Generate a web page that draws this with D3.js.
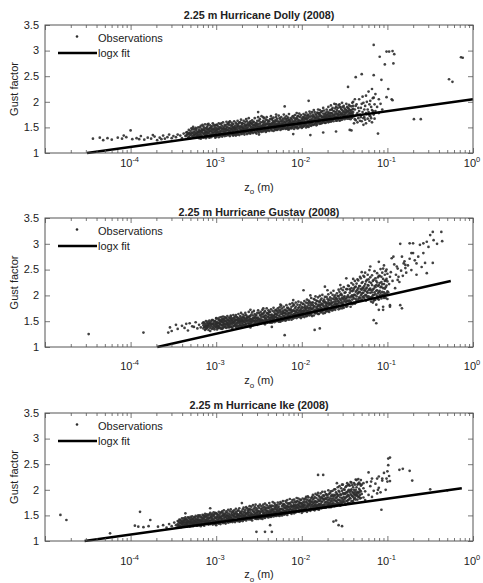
<!DOCTYPE html>
<html>
<head>
<meta charset="utf-8">
<script src="https://cdn.jsdelivr.net/npm/d3@7"></script>
<style>
  body { margin: 0; background: #fff; }
  svg { display: block; }
</style>
</head>
<body>
<svg id="chart" width="483" height="583"></svg>
<script>
// Gust factor observations at 2.25 m.
// Each token "E:g1:g2..." : E = -log10(z0 / 1 m) in hundredths of a decade,
// g = gust factor x 100 (several gust factors may share one roughness length).
const dollyObs = `
444:128 436:130 432:125 427:129 422:126 415:130 410:128 408:134 405:131 400:144 398:127 393:129 390:127 388:133 384:126 380:130 376:128 374:135 372:132 369:125 366:130 364:127 362:134 360:128 357:131 355:136 352:129 350:133 347:131 345:136 342:134 340:129 338:138 336:133
335:134:140 334:141:136 333:137:130 332:131:145:139 331:139:134 330:136:143:129 329:148:138 328:133:140:146 327:138:151:132 326:135:142:147 325:140:131:136 324:144:137:149 323:139:147:133 322:133:142:138 321:141:136:150
320:145:134:129:141 319:138:150:143:132 318:142:136:153:128 317:133:147:140:144 316:140:144:131:155 315:137:152:145:130 314:145:131:138:149 313:139:143:156:134 312:148:135:141:129 311:141:137:150:146 310:144:153:132:139 309:134:140:147:157 308:147:138:130:143 307:142:132:149:154 306:150:144:136:131 305:136:141:152:147 304:145:139:133:158 303:140:155:146:135 302:133:147:142:151 301:143:138:130:154
300:139:149:145:132 299:145:134:155:141 298:141:152:136:147 297:147:137:131:158 296:136:144:150:140 295:150:141:133:156 294:143:158:137:148 293:138:146:153:132 292:148:135:142:160 291:142:151:136:146 290:146:140:155:133 289:137:153:147:143 288:144:149:134:161 287:151:139:145:156 286:140:145:158:135 285:155:136:149:143 284:143:148:133:162 283:147:141:154:138 282:138:152:146:159 281:149:144:135:155
280:142:157:150:137 279:150:139:146:162 278:145:153:136:148 277:140:148:159:134 276:156:144:138:151 275:147:136:153:163 274:152:143:139:157 273:141:149:160:135 272:146:160:152:140 271:151:138:145:165 270:144:155:137:150 269:149:141:158:146 268:139:152:147:163 267:157:146:140:136 266:143:150:161:154 265:153:140:147:166 264:148:162:137:155 263:142:151:158:145 262:155:145:139:168 261:147:139:154:160
260:152:143:158:138 259:146:158:150:141 258:156:141:147:164 257:149:153:139:160 256:144:161:155:148 255:153:147:141:168 254:140:150:158:155 253:159:145:152:138 252:148:155:163:143 251:151:142:157:170 250:146:163:152:140 249:157:150:144:166 248:143:153:160:148 247:152:148:141:172 246:160:145:154:150 245:149:155:163:142 244:144:158:151:168 243:154:150:145:161 242:147:165:156:141 241:156:143:150:170
240:150:159:145:164 239:145:155:162:151 238:162:152:143:157 237:148:157:166:153 236:155:146:150:172 235:151:167:158:144 234:158:149:154:163 233:143:153:161:169 232:160:155:147:150 231:149:164:157:145 230:154:147:162:170 229:157:151:145:166 228:146:162:155:153 227:159:153:148:173 226:150:168:161:156 225:156:145:152:165 224:152:161:147:170 223:163:148:157:154 222:147:158:166:151 221:155:151:162:175
220:160:149:155:169 219:153:166:159:147 218:148:157:163:172 217:162:154:149:167 216:151:169:158:146 215:158:146:164:176 214:155:163:150:160 213:149:160:168:156 212:166:153:159:148 211:157:150:171:163 210:152:172:160:155 209:161:147:156:168 208:155:164:151:174 207:150:158:167:162 206:168:156:151:178 205:153:161:166:148 204:159:149:172:163 203:164:155:158:177 202:151:170:162:157 201:158:162:153:174
200:155:166:160:149 199:161:151:170:165 198:168:157:152:176 197:153:163:171:158 196:160:174:155:166 195:157:150:168:179 194:165:159:153:172 193:152:168:162:175 192:162:156:173:151 191:170:158:164:181 190:159:177:165:154 189:164:153:172:160 188:157:167:180:163 187:171:161:155:175 186:155:165:172:184 185:163:180:157:169 184:158:169:176:164 183:174:160:167:154 182:162:156:179:171 181:167:178:160:185
180:160:171:166:176 179:165:157:174:184 178:173:163:158:179 177:158:168:181:172 176:182:164:170:159 175:162:170:177:188 174:167:160:183:173 173:176:165:159:170 172:159:172:179:167 171:169:185:162:175 170:163:174:181:168 169:171:160:177:190 168:166:179:172:161 167:175:164:184:170 166:161:172:178:193 165:178:168:163:185 164:165:188:173:176 163:172:162:182:167 162:168:181:174:196 161:176:166:187:170
160:171:163:180:190 159:184:169:176:163 158:166:177:188:172 157:174:193:167:181 156:163:181:175:195 155:179:170:189:164 154:168:186:177:174 153:176:165:184:198 152:190:173:168:180 151:170:182:175:192 150:178:166:187:172 149:185:174:169:180 148:169:196:178:184 147:181:172:190:167 146:175:188:170:182 145:167:179:186:194 144:192:176:171:183 143:173:184:179:166 142:181:170:191:176 141:177:198:169:185 140:186:174:180:192
251:180 220:191 192:202 260:162 235:166 205:172 180:178 165:185 155:190 160:195 270:158 215:164 300:155 310:156 285:160 245:170 230:175
190:135 210:137 175:140 160:142 250:136 280:134
139:172:158 138:185:166 137:164:192 136:195:175 135:178:160 134:168:188 133:205:182 132:175:163 131:188:170 130:162:196 129:180:210 128:198:168:155 127:170:185 126:192:165 125:212:158:178 124:176:200 123:185:167 122:220:180 121:173:163:195 120:202:172 119:190:168 118:225:160:184 117:182:207 116:208:175 115:195:167 114:215:182 112:190 110:178:205 108:196 106:185
144:145 142:144 146:229 140:200 138:205 137:248 130:254 116:252 107:243 116:311 109:288 101:298 98:298 94:299 92:293 93:275 103:273 99:225 101:209 95:205 94:203 111:138 69:166 61:166 28:244 24:239 14:287 12:286
`;

const gustavObs = `
449:125 385:128 356:128 354:138 352:131 347:143 345:135 340:141 337:137 335:145 333:132 331:146 328:140 326:139 324:148 322:136 320:143 318:138 316:146
315:142:136:148 314:147:139 313:139:144:133 312:135:150:141 311:141:146:137 310:138:149:143 309:145:133:140 308:142:151:147 307:137:146:131 306:149:140:144 305:144:135:152 304:139:152:145 303:147:143:136 302:134:141:150 301:150:145:139 300:143:138:155:147
299:148:140:145:134 298:141:155:137:147 297:146:137:152:141 296:139:151:145:157 295:152:144:136:148 294:143:136:150:158 293:149:141:135:154 292:137:147:153:143 291:154:145:139:149 290:144:140:158:151
289:150:138:145:156 288:142:156:149:137 287:147:145:153:160 286:139:152:146:142 285:157:143:138:150 284:145:149:155:139 283:140:153:147:161 282:151:144:138:156 281:146:137:153:149 280:155:148:141:162
279:141:150:157:146 278:149:159:143:153 277:144:153:139:162 276:152:140:147:158 275:147:157:152:142 274:138:150:155:164 273:155:146:141:150 272:143:160:153:148 271:150:141:157:166 270:146:154:140:151
269:158:144:150:163 268:148:152:142:157 267:142:156:161:149 266:153:147:143:166 265:145:162:151:155 264:156:150:141:159 263:140:152:158:146 262:151:158:145:168 261:147:143:155:160 260:160:150:144:154
259:145:154:163:149 258:153:148:142:167 257:142:161:156:151 256:156:151:145:170 255:149:164:158:143 254:146:155:161:152 253:162:149:144:157 252:151:143:166:156 251:157:153:147:171 250:148:166:154:145
249:154:145:162:150 248:160:150:146:168 247:146:157:164:152 246:163:152:148:172 245:150:147:159:165 244:158:167:151:146 243:144:155:161:170 242:156:161:149:153 241:151:148:166:175 240:165:153:147:159
239:149:158:164:171 238:162:154:148:168 237:147:168:157:152 236:157:151:173:162 235:153:163:147:158 234:170:149:160:155 233:155:160:151:176 232:148:157:167:162 231:164:152:158:171 230:158:172:150:164
229:151:162:169:156 228:166:156:152:175 227:154:171:161:149 226:160:150:168:177 225:149:164:157:172 224:168:158:153:180 223:156:175:164:151 222:161:153:170:166 221:152:167:159:178 220:172:160:155:165
219:157:165:172:151 218:163:153:169:181 217:170:159:154:176 216:155:176:165:161 215:166:161:173:153 214:160:171:156:183 213:174:157:166:162 212:153:168:178:171 211:169:163:157:185 210:162:180:171:155
209:158:170:164:182 208:175:164:157:169 207:161:168:178:186 206:167:156:172:162 205:172:182:160:166 204:159:166:176:188 203:177:163:158:170 202:165:171:181:160 201:156:174:168:186 200:170:161:178:165
199:176:165:159:184 198:162:183:171:168 197:169:158:177:189 196:180:171:163:175 195:166:174:160:186 194:160:178:170:192 193:185:169:163:176 192:172:163:181:190 191:167:188:175:161 190:177:170:164:185
189:163:181:174:195 188:173:167:186:160 187:186:175:168:181 186:169:161:178:193 185:179:192:172:166 184:171:165:185:198 183:183:176:167:190 182:166:189:178:173 181:180:173:164:196 180:174:164:188:182
179:187:170:179:199 178:176:181:167:191 177:168:194:184:175 176:183:174:170:201 175:171:189:180:165 174:192:178:172:186 173:175:166:188:197 172:186:181:170:176 171:179:197:185:169 170:170:184:193:178
169:189:176:170:202 168:181:168:192:185 167:196:184:175:172 166:174:190:183:205 165:186:179:171:194 164:201:171:186:180 163:178:193:174:209 162:188:175:197:182 161:172:184:192:200 160:195:182:176:188
159:183:204:178:193 158:177:190:199:184 157:198:173:188:211 156:186:207:180:194 155:179:192:201:175 154:203:185:190:213 153:175:195:186:200 152:210:183:178:193 151:188:176:196:216 150:198:191:181:205
149:181:206:194:188 148:194:187:212:178 147:212:179:197:190 146:189:200:183:219 145:184:218:196:190 144:205:190:184:212 143:178:196:209:188 142:214:199:186:224 141:192:208:183:200 140:185:221:197:210
139:201:194:213:186 138:216:184:201:228 137:193:207:186:217 136:223:198:190:209 135:188:211:203:231 134:205:229:193:214 133:196:190:218:207 132:218:206:195:236 131:200:233:212:190 130:192:211:224:203
129:226:205:196:215 128:198:214:238:205 127:236:195:218:210 126:209:222:200:244 125:201:190:227:213 124:230:215:198:207 123:205:240:220:196 122:219:198:231:210 121:194:226:212:249
120:205:235:196:213 119:195:224:210:188 118:239:206:197:220 117:200:186:228:211 116:230:213:201:190 115:191:247:218:206 114:216:202:233:192 113:182:228:209:220 112:243:210:199:225 111:204:235:218:193 110:220:192:207:238
109:238:209:200:224 108:199:251:216:205 107:226:217:194:236 106:207:244:222:201 105:232:201:214:252 104:258:222:206:195 103:213:240:228:203 102:195:229:247:216 101:250:219:204:232 100:227:208:193:242
99:206 98:222 97:236 96:245 95:272 94:228 93:275 92:260 91:214 90:240 89:256 88:230:252 87:236 86:226 85:300:181 84:248 83:275:175 82:238 81:262 80:266 79:259:253 78:244 76:258 74:301:271 72:282:249 70:301:282 68:268 66:262:240 64:275 62:298 60:255 58:301:282 56:263 54:304:243 52:294 50:317 47:323:263 46:307 42:300 37:323 36:305
113:146 116:152 97:178:181 105:172:178 110:172 148:233 173:217 198:210 179:136 185:133 220:123 260:138 235:139 300:156 292:159 283:159 260:172 245:175 225:182 210:191 190:200 170:210 155:220 140:232 130:245 120:256 110:265
`;

const ikeObs = `
482:151 475:141 424:115 395:130 391:128 389:157 385:127 379:129 377:141 368:128 362:131 358:126 355:133 352:129 349:136 347:131
345:133:128:139 344:138:131 343:130:136:142 342:135:141:129 341:127:139:134 340:133:137:144:128 339:140:131:136 338:136:144:130:139 337:129:134:141 336:138:142:132:146 335:132:136:143 334:141:128:137:133 333:135:139:146:130 332:130:145:138 331:137:133:142:128
330:134:141:137:147 329:139:129:144:135 328:131:136:142:148 327:143:138:133:129 326:135:132:146:140 325:140:146:131:137 324:133:137:143:149 323:138:142:130:135 322:130:135:147:141 321:144:139:134:150
320:136:148:141:131 319:141:132:138:150 318:134:139:146:129 317:146:137:141:133 316:138:143:151:132 315:132:150:139:145 314:143:136:130:148 313:137:140:147:153 312:149:134:141:137 311:140:145:133:152
310:135:142:148:138 309:144:138:132:151 308:139:152:144:134 307:133:146:139:155 306:147:140:135:150 305:142:136:153:145 304:137:149:141:132 303:151:143:136:156 302:140:134:147:152 301:145:139:155:133
300:138:154:145:131 299:148:142:136:153 298:135:146:151:140 297:143:139:157:134 296:152:137:145:148 295:140:147:133:155 294:146:156:139:143 293:137:143:150:158 292:149:140:135:154 291:144:151:138:160
290:141:136:152:147 289:155:147:140:134 288:145:141:158:150 287:138:150:143:155 286:148:144:136:161 285:153:139:147:143 284:142:158:150:137 283:147:145:138:162 282:139:152:155:144 281:150:143:137:158
280:144:156:149:139 279:149:141:160:153 278:141:153:146:137 277:157:147:140:163 276:146:140:154:150 275:152:148:139:159 274:143:160:151:145 273:150:145:138:164 272:139:154:148:157 271:155:149:143:140
270:145:143:158:152 269:151:162:146:139 268:148:141:155:165 267:158:150:142:147 266:143:155:161:150 265:153:147:140:166 264:146:164:154:143 263:157:151:145:160 262:142:149:163:155 261:160:145:151:168
260:148:156:142:162 259:153:143:167:150 258:145:161:152:140 257:158:150:146:170 256:151:147:163:157 255:166:154:144:149 254:144:152:160:171 253:156:149:143:164 252:161:146:155:151 251:150:168:158:143
250:147:158:165:152 249:155:152:145:171 248:163:144:157:150 247:149:160:168:146 246:157:151:143:164 245:153:171:160:148 244:146:156:166:153 243:162:150:145:173 242:155:165:148:160 241:149:158:170:152
240:159:147:164:154 239:152:167:157:146 238:164:155:150:174 237:148:160:169:156 236:157:153:147:166 235:169:149:159:162 234:154:162:151:176 233:160:157:148:168 232:151:174:163:156 231:165:155:150:171
230:156:149:167:161 229:162:170:153:158 228:150:158:175:165 227:167:154:160:151 226:158:163:172:149 225:153:176:162:157 224:163:157:151:174 223:156:150:168:162 222:171:161:155:178 221:159:166:152:172
220:152:158:170:164 219:165:178:158:154 218:157:161:175:167 217:169:151:163:180 216:160:166:155:173 215:155:173:167:161 214:174:162:157:182 213:162:155:171:166 212:153:168:176:161 211:167:180:160:157
210:159:163:175:169 209:171:154:166:181 208:162:168:158:177 207:156:175:170:164 206:177:160:166:184 205:165:170:158:178 204:158:183:172:165 203:169:162:176:157 202:160:174:181:167 201:180:166:161:173
200:163:155:174:169 199:172:167:160:183 198:158:177:170:165 197:168:162:181:175 196:183:171:164:159 195:161:165:177:186 194:175:157:168:181 193:166:187:172:161 192:170:160:179:185 191:178:169:163:174
190:164:159:180:172 189:176:184:167:162 188:162:170:186:177 187:181:166:173:190 186:168:175:161:183 185:186:160:177:170 184:172:178:166:192 183:163:169:184:176 182:190:176:168:162 181:170:165:181:194
180:178:161:172:188 179:167:185:179:170 178:173:193:165:182 177:164:171:186:177 176:184:177:168:196 175:170:166:182:189 174:188:180:171:165 173:175:196:183:169 172:165:182:191:176 171:191:172:167:185
170:177:168:189:181 169:185:199:174:170 168:171:180:192:166 167:194:175:183:171 166:166:187:178:197 165:182:173:190:169 164:198:178:172:187 163:174:190:183:169 162:187:168:180:201 161:179:201:172:190
160:170:184:195:178 159:192:176:186:171 158:181:205:174:190 157:173:188:198:180 156:196:180:172:207 155:176:169:191:185 154:203:190:179:173 153:184:175:198:210 152:193:210:181:176 151:178:186:201:192
150:200:182:175:193 149:171:192:205:184 148:186:207:178:195 147:195:178:213:187 146:180:198:190:174 145:210:188:181:200 144:184:174:196:208 143:199:192:183:215 142:189:214:178:201 141:177:196:209:188
140:205:186:194:178 139:192:182:213:200 138:184:210:196:189 137:200:191:181:220 136:188:219:205:194 135:196:181:210:190 134:212:194:186:221 133:186:202:195:214 132:199:190:211:183 131:208:184:197:219
130:192:210 128:185:203:213 126:197:180 124:215 122:190:234 120:207 119:216 118:186:222 116:198 114:212 112:193:222 111:200 110:226:204 108:195 107:161 106:218:222 104:233 102:200 101:222 100:236:216 99:261:248 98:227 97:263:217
146:209 157:131 160:140 163:138 153:129 237:131 243:118 253:118 235:118 270:174 307:164 336:154 175:229 181:229 159:213 86:239 82:241 74:237 71:218 50:201 30:199
`;

// logx fit end points [z0 (m), gust factor]
const dollyFit  = [[3.1e-5, 1.00], [1.00, 2.05]];
const gustavFit = [[2.05e-4, 1.00], [0.55, 2.28]];
const ikeFit    = [[2.9e-5, 1.00], [0.74, 2.03]];

const panelTitles = [
  "2.25 m Hurricane Dolly (2008)",
  "2.25 m Hurricane Gustav (2008)",
  "2.25 m Hurricane Ike (2008)"
];
const xTickExponents = ["-4", "-3", "-2", "-1", "0"];
const yTickValues = [1, 1.5, 2, 2.5, 3, 3.5];
const yTickLabels = ["1", "1.5", "2", "2.5", "3", "3.5"];
const legendLabels = ["Observations", "logx fit"];

function parseObs(text) {
  const pts = [];
  text.trim().split(/\s+/).forEach(tok => {
    const parts = tok.split(":");
    const z0 = Math.pow(10, -(+parts[0]) / 100);
    for (let i = 1; i < parts.length; i++) pts.push([z0, +parts[i] / 100]);
  });
  return pts;
}

const panels = [
  { obs: parseObs(dollyObs),  fit: dollyFit,  title: panelTitles[0],
    top: 25,  bottom: 153, titleY: 18.5, tickY: 167, labelY: 190.5 },
  { obs: parseObs(gustavObs), fit: gustavFit, title: panelTitles[1],
    top: 218, bottom: 347, titleY: 215.5, tickY: 370, labelY: 384 },
  { obs: parseObs(ikeObs),    fit: ikeFit,    title: panelTitles[2],
    top: 413, bottom: 541, titleY: 408.5, tickY: 565, labelY: 578 }
];

const LEFT = 45, RIGHT = 473;
const FONT = "'Liberation Sans', Arial, Helvetica, sans-serif";
const INK = "#222";
const AXIS = "#555";
const DOT = "#2c2c2c";

const svg = d3.select("#chart");

panels.forEach(p => {
  const x = d3.scaleLog().domain([1e-5, 1]).range([LEFT, RIGHT]);
  const y = d3.scaleLinear().domain([1, 3.5]).range([p.bottom, p.top]);
  const g = svg.append("g");

  // title
  g.append("text")
    .attr("x", (LEFT + RIGHT) / 2).attr("y", p.titleY)
    .attr("text-anchor", "middle")
    .attr("font-family", FONT).attr("font-size", 10.8).attr("font-weight", "bold")
    .attr("fill", INK).text(p.title);

  // observations
  g.append("g").selectAll("circle").data(p.obs).join("circle")
    .attr("cx", d => x(d[0])).attr("cy", d => y(d[1]))
    .attr("r", 1.35).attr("fill", DOT).attr("fill-opacity", 0.9);

  // fit line
  g.append("path")
    .attr("d", d3.line().x(d => x(d[0])).y(d => y(d[1]))(p.fit))
    .attr("stroke", "#000").attr("stroke-width", 2.6).attr("fill", "none");

  // axes box
  g.append("rect")
    .attr("x", LEFT).attr("y", p.top)
    .attr("width", RIGHT - LEFT).attr("height", p.bottom - p.top)
    .attr("fill", "none").attr("stroke", AXIS).attr("stroke-width", 1);

  // x ticks (inward, bottom and top)
  const majors = d3.range(-5, 1).map(e => Math.pow(10, e));
  const minors = [];
  d3.range(-5, 0).forEach(e => { for (let k = 2; k <= 9; k++) minors.push(k * Math.pow(10, e)); });

  const xb = g.append("g").attr("transform", `translate(0,${p.bottom})`);
  xb.call(d3.axisTop(x).tickValues(majors).tickSize(5).tickFormat(""));
  xb.append("g").call(d3.axisTop(x).tickValues(minors).tickSize(3).tickFormat(""));
  const xt = g.append("g").attr("transform", `translate(0,${p.top})`);
  xt.call(d3.axisBottom(x).tickValues(majors).tickSize(5).tickFormat(""));
  xt.append("g").call(d3.axisBottom(x).tickValues(minors).tickSize(3).tickFormat(""));

  // y ticks (inward, left and right)
  const yl = g.append("g").attr("transform", `translate(${LEFT},0)`);
  yl.call(d3.axisRight(y).tickValues(yTickValues).tickSize(5).tickFormat(""));
  const yr = g.append("g").attr("transform", `translate(${RIGHT},0)`);
  yr.call(d3.axisLeft(y).tickValues(yTickValues).tickSize(5).tickFormat(""));

  g.selectAll(".domain").remove();
  g.selectAll(".tick line").attr("stroke", AXIS).attr("stroke-width", 0.8);

  // y tick labels
  g.append("g").selectAll("text").data(yTickValues).join("text")
    .attr("x", LEFT - 6).attr("y", d => y(d)).attr("dy", "0.35em")
    .attr("text-anchor", "end")
    .attr("font-family", FONT).attr("font-size", 11).attr("fill", INK)
    .text((d, i) => yTickLabels[i]);

  // x tick labels 10^n
  const xl = g.append("g").selectAll("text").data(xTickExponents).join("text")
    .attr("x", d => x(Math.pow(10, +d)) - 1).attr("y", p.tickY)
    .attr("text-anchor", "middle")
    .attr("font-family", FONT).attr("font-size", 11).attr("fill", INK);
  xl.append("tspan").text("10");
  xl.append("tspan").attr("dy", -5).attr("font-size", 7.5).text(d => d);

  // axis labels
  const xlab = g.append("text")
    .attr("x", (LEFT + RIGHT) / 2).attr("y", p.labelY)
    .attr("text-anchor", "middle")
    .attr("font-family", FONT).attr("font-size", 11).attr("fill", INK);
  xlab.append("tspan").text("z");
  xlab.append("tspan").attr("dy", 3.5).attr("font-size", 8).text("o");
  xlab.append("tspan").attr("dy", -3.5).text(" (m)");

  g.append("text")
    .attr("transform", `translate(18,${(p.top + p.bottom) / 2}) rotate(-90)`)
    .attr("text-anchor", "middle")
    .attr("font-family", FONT).attr("font-size", 11).attr("fill", INK)
    .text("Gust factor");

  // legend
  g.append("circle").attr("cx", 77).attr("cy", p.top + 11.5)
    .attr("r", 1.3).attr("fill", DOT);
  g.append("text").attr("x", 98).attr("y", p.top + 16.5)
    .attr("font-family", FONT).attr("font-size", 11).attr("fill", INK)
    .text(legendLabels[0]);
  g.append("line").attr("x1", 58).attr("x2", 97)
    .attr("y1", p.top + 28).attr("y2", p.top + 28)
    .attr("stroke", "#000").attr("stroke-width", 2.6);
  g.append("text").attr("x", 98).attr("y", p.top + 32)
    .attr("font-family", FONT).attr("font-size", 11).attr("fill", INK)
    .text(legendLabels[1]);
});
</script>
</body>
</html>
